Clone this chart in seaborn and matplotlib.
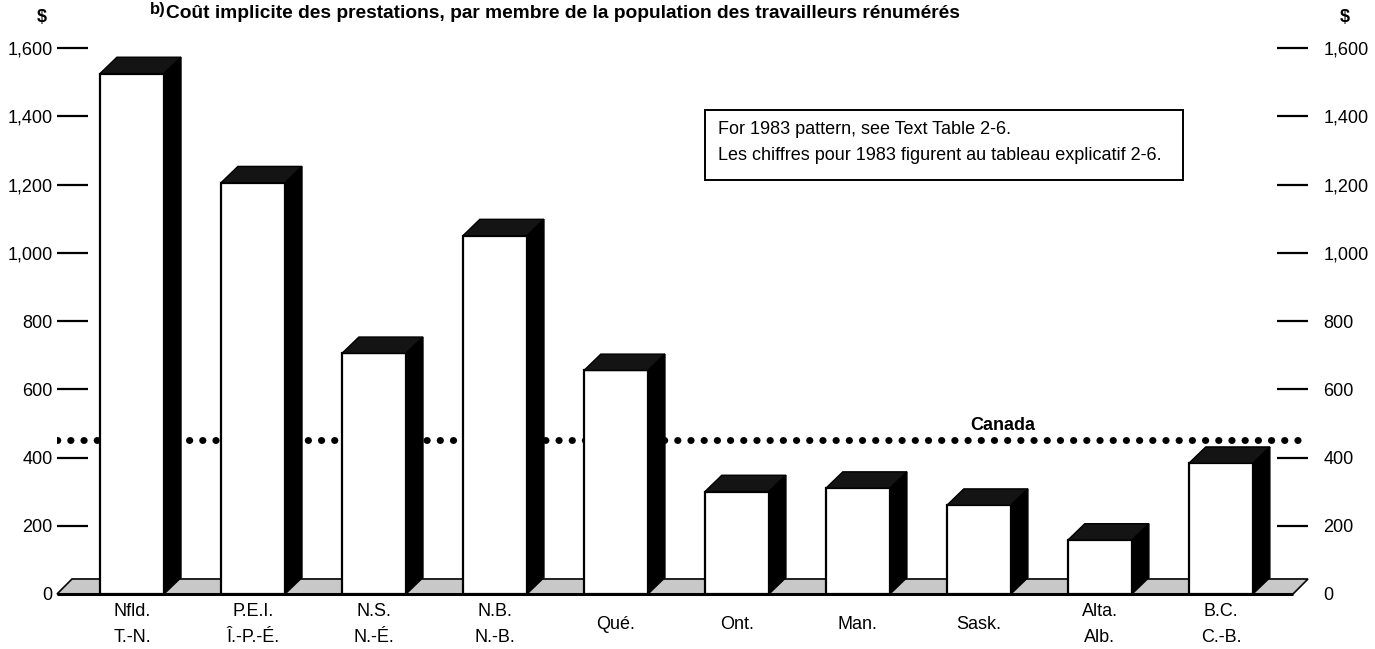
import numpy as np
import pandas as pd
import matplotlib
matplotlib.use("Agg")
import matplotlib.pyplot as plt
import matplotlib.transforms as mtransforms
from matplotlib.patches import Polygon, Rectangle
import seaborn as sns

# ── Data ──────────────────────────────────────────────────────────────────────
provinces = ["Nfld.\nT.-N.", "P.E.I.\nÎ.-P.-É.", "N.S.\nN.-É.", "N.B.\nN.-B.", "Qué.",
             "Ont.", "Man.", "Sask.", "Alta.\nAlb.", "B.C.\nC.-B."]
cost = [1525, 1205, 705, 1050, 655, 300, 310, 260, 158, 383]
canada_avg = 450
yticks = [0, 200, 400, 600, 800, 1000, 1200, 1400, 1600]
ytick_labels = ["0", "200", "400", "600", "800", "1,000", "1,200", "1,400", "1,600"]

title = "Coût implicite des prestations, par membre de la population des travailleurs rénumérés"
note_lines = ["For 1983 pattern, see Text Table 2-6.",
              "Les chiffres pour 1983 figurent au tableau explicatif 2-6."]

df = pd.DataFrame({"province": provinces, "cost": cost})

# ── Style ─────────────────────────────────────────────────────────────────────
sns.set_style("white")
plt.rcParams["font.family"] = ["Liberation Sans", "DejaVu Sans"]
plt.rcParams["font.size"] = 13
plt.rcParams["text.color"] = "black"
plt.rcParams["xtick.color"] = "black"
plt.rcParams["ytick.color"] = "black"
plt.rcParams["xtick.labelcolor"] = "black"
plt.rcParams["ytick.labelcolor"] = "black"

fig = plt.figure(figsize=(13.75, 6.49), dpi=100)
W, H = 1375, 649
ax = fig.add_axes([57 / W, (H - 594) / H, 1251 / W, 546 / H])

sns.barplot(data=df, x="province", y="cost", color="white", edgecolor="black",
            linewidth=1.6, width=0.53, saturation=1, ax=ax, zorder=3)

ax.set_xlim(-0.62, 9.72)
ax.set_ylim(0, 1600)

# depth of the pseudo-3D blocks (data units)
dx = 0.14
dy = 48

# ── 3D faces built from the drawn bars ────────────────────────────────────────
for p in ax.patches:
    x0 = p.get_x()
    x1 = x0 + p.get_width()
    h = p.get_height()
    top = Polygon([(x0, h), (x0 + dx, h + dy), (x1 + dx, h + dy), (x1, h)],
                  closed=True, facecolor="#141414", edgecolor="black", lw=1, zorder=3)
    side = Polygon([(x1, 0), (x1, h), (x1 + dx, h + dy), (x1 + dx, dy)],
                   closed=True, facecolor="black", edgecolor="black", lw=1, zorder=3)
    ax.add_patch(top)
    ax.add_patch(side)

# ── Floor platform ────────────────────────────────────────────────────────────
blend = mtransforms.blended_transform_factory(ax.transAxes, ax.transData)
sx = 15 / 1251
floor = Polygon([(0, 0), (sx, 44), (1, 44), (1 - sx, 0)], closed=True,
                facecolor="#c8c8c8", edgecolor="black", lw=1.2,
                transform=blend, zorder=2, clip_on=False)
ax.add_patch(floor)
ax.plot([0, 1 - sx], [0, 0], color="black", lw=2.2, transform=blend,
        clip_on=False, zorder=2.5, solid_capstyle="butt")

# ── Canada average ────────────────────────────────────────────────────────────
ax.axhline(canada_avg, color="black", lw=5, linestyle=(0, (0.05, 1.85)),
           dash_capstyle="round", zorder=1)
ax.text(7.2, canada_avg + 20, "Canada", ha="center", va="bottom",
        fontsize=13, fontweight="bold")

# ── Axes / ticks ──────────────────────────────────────────────────────────────
for s in ax.spines.values():
    s.set_visible(False)
ax.set_xlabel("")
ax.set_ylabel("")
ax.set_yticks(yticks)
ax.set_yticklabels(ytick_labels)
ax.tick_params(axis="y", left=True, right=True, labelleft=True, labelright=True,
               direction="in", length=22, width=1.6, labelsize=13, pad=3)
ax.yaxis.get_major_ticks()[0].tick1line.set_visible(False)
ax.yaxis.get_major_ticks()[0].tick2line.set_visible(False)
# right-hand labels sit a little further out than the left ones
offset = mtransforms.ScaledTranslation(8 / 72, 0, fig.dpi_scale_trans)
for t in ax.yaxis.get_major_ticks():
    t.label2.set_transform(t.label2.get_transform() + offset)

ax.set_xticks(range(len(provinces)))
ax.set_xticklabels(provinces, linespacing=1.75, va="center", fontsize=13)
ax.tick_params(axis="x", length=0, pad=22)

# ── Titles / notes ────────────────────────────────────────────────────────────
fig.text(150 / W, 1 - 2 / H, "b)", fontsize=12, fontweight="bold", va="top")
fig.text(166 / W, 1 - 13 / H, title, fontsize=13.8, fontweight="bold", va="center")
fig.text(42 / W, 1 - 18 / H, "$", fontsize=13, fontweight="bold", ha="center", va="center")
fig.text(1345 / W, 1 - 18 / H, "$", fontsize=13, fontweight="bold", ha="center", va="center")

fig.patches.append(Rectangle((705 / W, 1 - 180 / H), 478 / W, 70 / H,
                             transform=fig.transFigure, facecolor="white",
                             edgecolor="black", lw=1.4, zorder=5))
fig.text(718 / W, 1 - 130 / H, note_lines[0], fontsize=13, va="center", zorder=6)
fig.text(718 / W, 1 - 155 / H, note_lines[1], fontsize=13, va="center", zorder=6)

fig.savefig("out.png", dpi=100, facecolor="white")
